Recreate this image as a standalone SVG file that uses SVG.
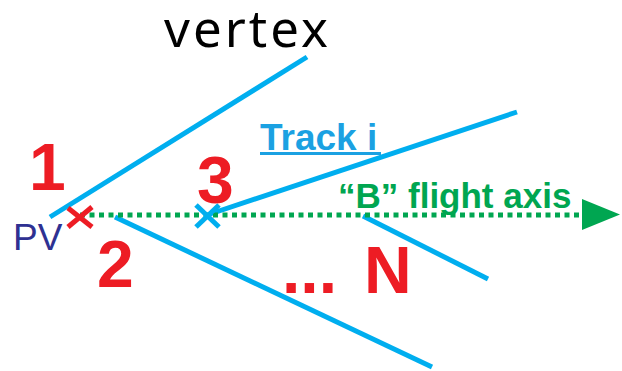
<svg xmlns="http://www.w3.org/2000/svg" width="622" height="371" viewBox="0 0 622 371">
<style>
.trk{stroke:#00aeef;stroke-width:5;fill:none;stroke-linecap:butt}
.red{fill:#ed1c24;font-family:"Liberation Sans",Arial,sans-serif;font-weight:bold;font-size:66px}
.xr{stroke:#ed1c24;stroke-width:5}
.xb{stroke:#00aeef;stroke-width:5}
</style>
<rect width="622" height="371" fill="#fff"/>
<g id="connectors">
<line class="trk" x1="50" y1="217" x2="307" y2="57"/>
<line class="trk" x1="115" y1="217" x2="432" y2="367"/>
<line class="trk" x1="210" y1="214" x2="517" y2="112"/>
<line class="trk" x1="363" y1="216" x2="488" y2="279"/>
<line x1="80" y1="215" x2="585" y2="215" stroke="#00a651" stroke-width="5" stroke-dasharray="5,4.5"/>
<polygon points="582,199 620,214.5 582,230" fill="#00a651"/>
</g>
<g id="pv-cross"><line class="xr" x1="68" y1="208" x2="92" y2="227"/><line class="xr" x1="68" y1="227" x2="92" y2="207"/></g>
<g id="vertex3-cross"><line class="xb" x1="196" y1="205" x2="219" y2="227"/><line class="xb" x1="196" y1="227" x2="219" y2="205"/></g>
<g id="label-vertex"><text x="164" y="47" font-family="'Noto Sans',sans-serif" font-size="51" fill="#000" textLength="164" lengthAdjust="spacing">vertex</text></g>
<g id="label-pv"><text x="13" y="250" font-family="Liberation Sans,Arial,sans-serif" font-size="37" fill="#2e3192">PV</text></g>
<g id="label-1"><text class="red" x="29" y="190">1</text></g>
<g id="label-2"><text class="red" x="97" y="287">2</text></g>
<g id="label-3"><text class="red" x="197" y="203">3</text></g>
<g id="label-n"><text class="red" x="364" y="293">N</text></g>
<g id="label-dots"><text class="red" x="282" y="293">...</text></g>
<g id="label-track"><text x="260" y="150" font-family="Liberation Sans,Arial,sans-serif" font-weight="bold" font-size="37" fill="#1ba1e2">Track i</text><line x1="260" y1="153.5" x2="381" y2="153.5" stroke="#1ba1e2" stroke-width="3"/></g>
<g id="label-axis"><text x="338" y="208" font-family="Liberation Sans,Arial,sans-serif" font-weight="bold" font-size="35" fill="#00a651">“B” flight axis</text></g>
</svg>
